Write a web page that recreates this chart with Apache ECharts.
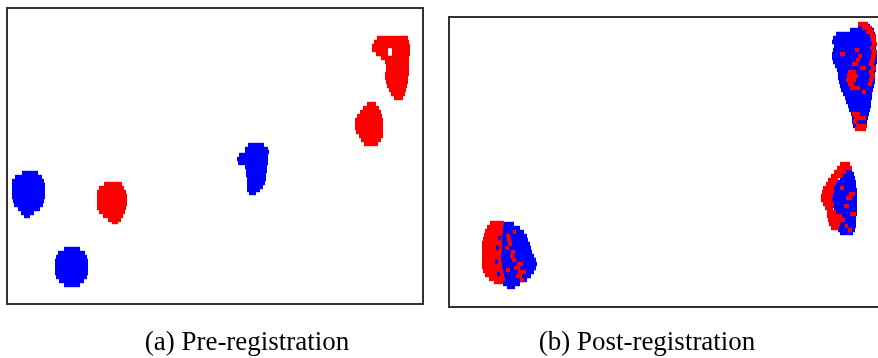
<!DOCTYPE html>
<html>
<head>
<meta charset="utf-8">
<script src="https://cdn.jsdelivr.net/npm/echarts@6/dist/echarts.min.js"></script>
<style>
html,body{margin:0;padding:0;background:#fff;}
#chart{width:878px;height:358px;}
</style>
</head>
<body>
<div id="chart"></div>
<script>
// Panel captions
const captions = ['(a) Pre-registration', '(b) Post-registration'];

// Point clouds, stored as horizontal runs of points: [xStart, xEnd, y]
// (a) Pre-registration
const preBlue = [
  // cloud 1
  [22,38,173],[15,42,177],[12,44,181],[12,45,185],[12,45,189],[12,45,193],[12,45,197],
  [13,44,201],[14,43,205],[18,40,209],[21,34,213],[24,30,216],
  // cloud 2
  [64,80,249],[58,85,253],[56,87,257],[55,88,261],[55,88,265],[55,88,269],[55,88,273],
  [56,87,277],[59,84,281],[64,80,285],
  // cloud 3
  [248,264,145],[245,268,149],[245,269,152],[239,268,155],[237,268,159],[238,268,163],
  [245,267,167],[246,267,171],[246,266,175],[247,266,179],[247,265,183],[247,263,187],
  [247,260,190],[249,256,193]
];
const preRed = [
  // cloud 1
  [104,122,184],[99,124,188],[97,126,192],[97,127,196],[97,127,200],[97,127,204],
  [97,126,208],[99,125,212],[103,123,216],[108,121,220],[112,118,222],
  // cloud 2
  [367,376,104],[363,379,108],[360,381,112],[357,382,116],[355,383,120],[355,383,124],
  [355,383,128],[356,383,132],[359,383,136],[361,381,140],[364,378,144],
  // cloud 3
  [377,408,38],[374,409,42],[372,410,46],[372,388,50],[392,410,50],[376,388,54],[392,410,54],
  [381,409,58],[385,409,62],[386,409,66],[386,409,70],[385,409,74],[385,408,78],
  [386,408,82],[387,407,86],[389,406,90],[391,405,94],[394,403,98]
];

// (b) Post-registration
const postBlue = [
  // cloud A
  [500,514,224],[498,520,228],[498,524,232],[498,527,236],[498,528,240],[498,530,244],
  [498,531,248],[498,532,252],[498,534,256],[498,536,260],[498,537,264],[498,536,268],
  [498,534,272],[498,531,276],[499,527,280],[503,520,284],[507,515,287],
  // cloud B
  [858,870,26],[850,874,30],[836,875,34],[833,876,38],[832,876,42],[834,876,46],
  [833,876,50],[832,877,54],[832,877,58],[833,877,62],[835,876,66],[837,876,70],
  [838,875,74],[838,875,78],[839,875,82],[840,874,86],[841,873,90],[843,872,94],
  [845,872,98],[846,871,102],[848,871,106],[849,870,110],[851,869,114],[852,868,118],
  [852,867,122],[853,866,126],
  // cloud C
  [845,852,170],[843,854,174],[840,855,178],[836,856,182],[833,856,186],[832,857,190],
  [832,857,194],[832,857,198],[832,857,202],[833,857,206],[834,857,210],[835,857,214],
  [836,856,218],[836,856,222],[837,856,226],[838,855,230],[840,853,233]
];
const postRed = [
  // cloud A
  [490,504,223],[487,503,227],[485,503,231],[484,502,235],[483,502,239],[482,502,243],
  [482,502,247],[482,502,251],[482,501,255],[482,501,259],[482,502,263],[482,502,267],
  [483,503,271],[485,504,275],[489,505,279],[494,503,282],
  [506,510,236],[507,511,240],[508,512,244],[505,509,248],[511,515,252],[510,514,256],
  [512,516,260],[517,523,264],[514,520,268],[506,510,270],[518,526,272],[516,522,276],
  [520,524,280],[513,516,232],
  // cloud B
  [858,868,24],[862,872,28],[866,874,32],
  [870,876,36],[871,876,40],[872,877,44],[870,875,48],[872,877,52],[871,876,56],
  [870,875,60],[869,874,64],[871,876,68],[869,874,72],[870,875,76],[869,873,80],[868,872,84],
  [855,859,50],[840,845,54],[858,862,56],[856,860,60],[852,858,64],[860,866,68],
  [848,856,72],[847,858,76],[846,856,80],[848,854,84],[850,860,88],[862,866,92],
  [852,860,114],[854,866,118],[853,857,122],[856,867,126],[855,866,129],
  // cloud C
  [840,850,164],[837,852,168],[834,846,172],[831,843,176],[828,838,180],[826,836,184],
  [823,834,188],[822,834,192],[821,833,196],[821,832,200],[823,834,204],[825,833,208],
  [827,836,212],[827,842,216],[828,845,220],[829,840,224],[831,839,228],
  [849,855,194],[846,852,198],[844,849,206],[840,844,188],[850,856,214],[845,848,226],[848,852,230]
];
const postBlueFlecks = [
  [498,501,238],[496,499,248],[495,498,262],[497,500,274]
];

const RED = '#ff0000';
const BLUE = '#0000ff';

function runSeries(data, color, gridIndex, name) {
  return {
    type: 'custom',
    name: name,
    xAxisIndex: gridIndex,
    yAxisIndex: gridIndex,
    clip: true,
    encode: { x: [0, 1], y: 2 },
    data: data,
    renderItem: function (params, api) {
      const a = api.coord([api.value(0), api.value(2) - 2.2]);
      const b = api.coord([api.value(1), api.value(2) + 2.2]);
      return {
        type: 'rect',
        shape: {
          x: Math.min(a[0], b[0]),
          y: Math.min(a[1], b[1]),
          width: Math.abs(b[0] - a[0]),
          height: Math.abs(b[1] - a[1])
        },
        style: { fill: color }
      };
    }
  };
}

const hiddenAxis = {
  axisLine: { show: false }, axisTick: { show: false },
  axisLabel: { show: false }, splitLine: { show: false }
};

const chart = echarts.init(document.getElementById('chart'), null, { renderer: 'canvas' });
chart.setOption({
  backgroundColor: '#ffffff',
  animation: false,
  grid: [
    { left: 7, top: 8, width: 416, height: 296, outerBoundsMode: 'none', show: true, borderColor: '#333', borderWidth: 2, backgroundColor: 'transparent' },
    { left: 449, top: 17, width: 441, height: 290, outerBoundsMode: 'none', show: true, borderColor: '#333', borderWidth: 2, backgroundColor: 'transparent' }
  ],
  xAxis: [
    Object.assign({ type: 'value', gridIndex: 0, min: 7, max: 423 }, hiddenAxis),
    Object.assign({ type: 'value', gridIndex: 1, min: 449, max: 890 }, hiddenAxis)
  ],
  yAxis: [
    Object.assign({ type: 'value', gridIndex: 0, min: 8, max: 304, inverse: true }, hiddenAxis),
    Object.assign({ type: 'value', gridIndex: 1, min: 17, max: 307, inverse: true }, hiddenAxis)
  ],
  graphic: [
    { type: 'text', x: 247, y: 343, style: { text: captions[0], fill: '#000', font: '27px "Liberation Serif", "DejaVu Serif", serif', textAlign: 'center', textVerticalAlign: 'middle' } },
    { type: 'text', x: 647, y: 343, style: { text: captions[1], fill: '#000', font: '27px "Liberation Serif", "DejaVu Serif", serif', textAlign: 'center', textVerticalAlign: 'middle' } }
  ],
  series: [
    runSeries(preBlue, BLUE, 0, 'pre-blue'),
    runSeries(preRed, RED, 0, 'pre-red'),
    runSeries(postBlue, BLUE, 1, 'post-blue'),
    runSeries(postRed, RED, 1, 'post-red'),
    runSeries(postBlueFlecks, BLUE, 1, 'post-blue-flecks')
  ]
});
</script>
</body>
</html>
